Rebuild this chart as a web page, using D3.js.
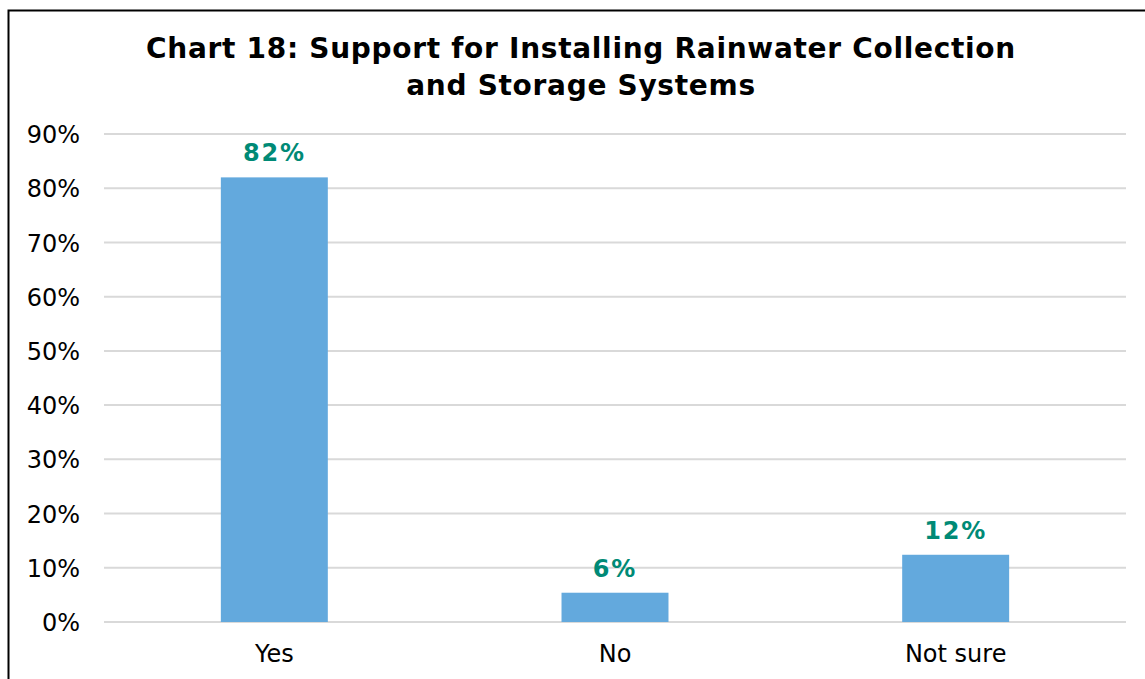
<!DOCTYPE html>
<html>
<head>
<meta charset="utf-8">
<script src="https://cdn.jsdelivr.net/npm/d3@7"></script>
<style>
  html, body { margin: 0; padding: 0; background: #fff; }
  svg { display: block; }
</style>
</head>
<body>
<svg id="chart" width="1145" height="679"></svg>
<script>
const titleLines = ["Chart 18: Support for Installing Rainwater Collection", "and Storage Systems"];
const categories = ["Yes", "No", "Not sure"];
const values = [82.0, 5.4, 12.4];
const valueLabels = ["82%", "6%", "12%"];
const yTicks = [0, 10, 20, 30, 40, 50, 60, 70, 80, 90];

const svg = d3.select("#chart");
const W = 1145, H = 679;
const margin = { left: 104, right: 19, top: 134, bottom: 57 };
const font = "'DejaVu Sans', Verdana, sans-serif";

// outer border (extends beyond the visible area on right & bottom)
svg.append("rect")
  .attr("x", 8.5).attr("y", 10.5)
  .attr("width", W + 20).attr("height", H + 20)
  .attr("fill", "#fff").attr("stroke", "#000").attr("stroke-width", 2);

const x = d3.scaleBand().domain(categories).range([margin.left, W - margin.right]).padding(0);
const y = d3.scaleLinear().domain([0, 90]).range([622, 134]);

// gridlines
svg.append("g").selectAll("line").data(yTicks).join("line")
  .attr("x1", margin.left).attr("x2", W - margin.right)
  .attr("y1", d => y(d)).attr("y2", d => y(d))
  .attr("stroke", "#d9d9d9").attr("stroke-width", 2);

// y axis labels
const yAxis = d3.axisLeft(y).tickValues(yTicks).tickFormat(d => d + "%").tickSize(0).tickPadding(0);
const gy = svg.append("g").attr("transform", "translate(80,0)").call(yAxis);
gy.select(".domain").remove();
gy.selectAll("text").attr("font-family", font).attr("font-size", 24).attr("fill", "#000").attr("dy", "0.36em");

// bars
const barW = x.bandwidth() * 0.314;
svg.append("g").selectAll("rect").data(categories).join("rect")
  .attr("x", (d) => x(d) + x.bandwidth() / 2 - barW / 2)
  .attr("width", barW)
  .attr("y", (d, i) => y(values[i]))
  .attr("height", (d, i) => y(0) - y(values[i]))
  .attr("fill", "#63a9dd");

// value labels
svg.append("g").selectAll("text").data(categories).join("text")
  .attr("x", d => x(d) + x.bandwidth() / 2)
  .attr("y", (d, i) => y(values[i]) - 16)
  .attr("text-anchor", "middle")
  .attr("font-family", font).attr("font-weight", "bold").attr("font-size", 24)
  .attr("letter-spacing", "1.8px")
  .attr("fill", "#008a76")
  .text((d, i) => valueLabels[i]);

// x axis labels
const xAxis = d3.axisBottom(x).tickSize(0).tickPadding(0);
const gx = svg.append("g").attr("transform", "translate(0,645)").call(xAxis);
gx.select(".domain").remove();
gx.selectAll("text").attr("font-family", font).attr("font-size", 24).attr("fill", "#000").attr("dy", "0.71em");

// title
svg.append("g").selectAll("text").data(titleLines).join("text")
  .attr("x", 581)
  .attr("y", (d, i) => 58 + i * 37)
  .attr("text-anchor", "middle")
  .attr("font-family", font).attr("font-weight", "bold").attr("font-size", 28)
  .attr("letter-spacing", "0.7px")
  .attr("fill", "#000")
  .text(d => d);
</script>
</body>
</html>
